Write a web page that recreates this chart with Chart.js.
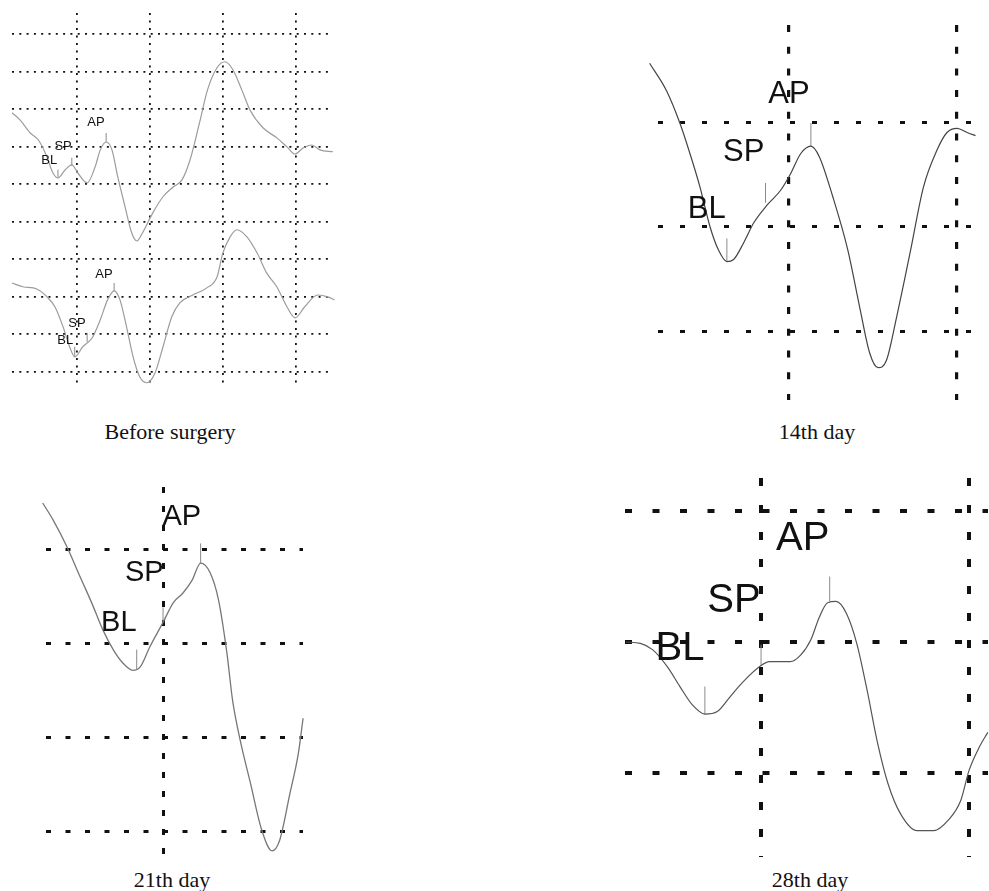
<!DOCTYPE html>
<html>
<head>
<meta charset="utf-8">
<title>ABR waveforms</title>
<script src="https://cdn.jsdelivr.net/npm/chart.js@4.4.1/dist/chart.umd.min.js"></script>
<style>
  body { margin: 0; background: #fff; }
  #page { position: relative; width: 989px; height: 891px; overflow: hidden; background: #fff; }
  #page canvas { position: absolute; }
  .cap { position: absolute; font-family: "Liberation Serif", "Times New Roman", serif; font-size: 22px;
         line-height: 22px; color: #111; transform: translateX(-50%); white-space: nowrap; }
</style>
</head>
<body>
<div id="page">
  <canvas id="c1" width="345" height="395" style="left:0px;top:0px;width:345px;height:395px"></canvas>
  <canvas id="c2" width="349" height="395" style="left:640px;top:15px;width:349px;height:395px"></canvas>
  <canvas id="c3" width="290" height="390" style="left:30px;top:475px;width:290px;height:390px"></canvas>
  <canvas id="c4" width="379" height="400" style="left:610px;top:465px;width:379px;height:400px"></canvas>
  <div class="cap" style="left:170px;top:421px">Before surgery</div>
  <div class="cap" style="left:817px;top:421px">14th day</div>
  <div class="cap" style="left:172px;top:869px">21th day</div>
  <div class="cap" style="left:810px;top:869px">28th day</div>
</div>
<script>
// values in grid divisions (x = latency, y = amplitude)

// --- before surgery: two traces
const preGridX = [1, 2, 3, 4];
const preGridY = [0, 1, 2, 3, 4, 5, 6, 7, 8, 9];
const preAX = [0.11,0.22,0.36,0.47,0.59,0.67,0.74,0.84,0.93,1.01,1.14,1.25,1.32,1.40,1.48,1.56,1.66,1.75,1.82,1.90,2.04,2.18,2.32,2.44,2.55,2.68,2.79,2.92,3.03,3.14,3.26,3.37,3.55,3.74,3.88,3.99,4.10,4.22,4.33,4.51];
const preAY = [6.91,6.72,6.37,6.19,5.73,5.31,5.17,5.39,5.52,5.31,5.04,5.47,5.92,6.13,5.92,5.20,4.40,3.71,3.49,3.71,4.24,4.67,4.93,5.12,5.65,6.64,7.52,8.11,8.27,8.05,7.52,6.99,6.51,6.24,6.00,5.81,5.97,6.05,5.92,5.87];
const preBX = [0.11,0.26,0.45,0.59,0.70,0.81,0.90,0.97,1.08,1.21,1.32,1.42,1.51,1.59,1.68,1.77,1.86,1.96,2.07,2.18,2.30,2.41,2.59,2.78,2.92,3.00,3.10,3.19,3.33,3.47,3.60,3.74,3.88,3.99,4.12,4.30,4.44,4.53];
const preBY = [2.37,2.27,2.21,2.00,1.73,1.20,0.67,0.40,0.67,0.91,1.39,1.92,2.16,1.92,1.20,0.40,-0.13,-0.29,-0.03,0.67,1.47,1.84,2.05,2.24,2.53,3.17,3.60,3.79,3.60,3.17,2.64,2.27,1.73,1.44,1.73,2.05,2.00,1.92];
// markers: [x, yFrom, yTo]
const preMarks = [[0.74,5.17,5.39],[0.93,5.49,5.71],[1.40,6.13,6.37],[0.97,0.40,0.67],[1.14,0.80,1.04],[1.51,2.16,2.37]];
const preLabels = [["AP",1.26,6.64],["SP",0.81,6.00],["BL",0.62,5.63],["AP",1.37,2.61],["SP",1.00,1.28],["BL",0.84,0.85]];

// --- 14th day
const d14GridX = [1, 2];
const d14GridY = [0, 1, 2];
const d14X = [0.17,0.27,0.35,0.41,0.47,0.53,0.58,0.63,0.67,0.73,0.79,0.87,0.95,1.01,1.07,1.13,1.18,1.26,1.35,1.42,1.48,1.53,1.58,1.64,1.72,1.80,1.88,1.94,2.00,2.06,2.11];
const d14Y = [2.56,2.30,1.99,1.70,1.38,1.00,0.78,0.67,0.69,0.85,1.04,1.21,1.35,1.51,1.70,1.77,1.67,1.29,0.78,0.24,-0.20,-0.34,-0.27,0.14,0.75,1.38,1.73,1.90,1.94,1.90,1.87];
const d14Marks = [[0.63,0.67,0.89],[0.86,1.23,1.42],[1.13,1.77,1.99]];
const d14Labels = [["AP",1.00,2.26],["SP",0.73,1.71],["BL",0.51,1.17]];

// --- 21th day
const d21GridX = [1];
const d21GridY = [0, 1, 2, 3];
const d21X = [-0.28,-0.17,-0.02,0.12,0.24,0.36,0.47,0.57,0.68,0.76,0.86,1.00,1.11,1.21,1.31,1.40,1.50,1.59,1.68,1.74,1.82,1.93,2.05,2.16,2.24,2.35,2.44,2.49];
const d21Y = [3.50,3.32,3.03,2.71,2.44,2.15,1.94,1.80,1.72,1.76,1.97,2.23,2.44,2.54,2.68,2.86,2.76,2.47,1.90,1.40,0.98,0.52,0.02,-0.20,-0.09,0.41,0.84,1.21];
const d21Marks = [[0.72,1.73,1.94],[1.00,2.23,2.39],[1.40,2.86,3.07]];
const d21Labels = [["AP",1.20,3.35],["SP",0.80,2.76],["BL",0.53,2.22]];

// --- 28th day
const d28GridX = [1, 2];
const d28GridY = [0, 1, 2];
const d28X = [0.35,0.42,0.48,0.55,0.61,0.67,0.73,0.79,0.85,0.91,1.00,1.04,1.14,1.19,1.24,1.28,1.32,1.36,1.41,1.46,1.51,1.56,1.61,1.67,1.75,1.83,1.90,1.96,2.00,2.05,2.09];
const d28Y = [1.00,0.99,0.94,0.81,0.66,0.52,0.45,0.47,0.58,0.69,0.82,0.85,0.85,0.90,1.02,1.19,1.30,1.31,1.22,0.99,0.63,0.23,-0.08,-0.31,-0.44,-0.44,-0.36,-0.21,0.02,0.20,0.31];
const d28Marks = [[0.73,0.45,0.66],[1.00,0.82,0.98],[1.33,1.31,1.50]];
const d28Labels = [["AP",1.20,1.79],["SP",0.87,1.31],["BL",0.61,0.95]];

const zip = (xs, ys) => xs.map((x, i) => ({ x, y: ys[i] }));

// AP / SP / BL text at data positions
const peakLabels = {
  id: "peakLabels",
  afterDatasetsDraw(chart, args, opts) {
    const { ctx, scales: { x, y } } = chart;
    ctx.save();
    ctx.font = opts.size + 'px "Liberation Sans", Arial, sans-serif';
    ctx.fillStyle = "#111";
    ctx.textAlign = "center";
    ctx.textBaseline = "middle";
    for (const [t, lx, ly] of opts.items) ctx.fillText(t, x.getPixelForValue(lx), y.getPixelForValue(ly));
    ctx.restore();
  }
};

function gridScale(min, max, ticks, width, dash){
  return {
    type: "linear", min, max,
    afterBuildTicks: (s) => { s.ticks = ticks.map(v => ({ value: v })); },
    ticks: { display: false },
    grid: { color: "#111", lineWidth: width, drawTicks: false },
    border: { display: false, dash }
  };
}

function makePanel(id, p){
  const datasets = p.traces.map(t => ({
    data: t, borderColor: p.color, borderWidth: p.lw, pointRadius: 0,
    cubicInterpolationMode: "monotone", clip: false
  }));
  for (const [mx, y0, y1] of p.marks){
    datasets.push({ data: [{ x: mx, y: y0 }, { x: mx, y: y1 }], borderColor: "#8a8a8a", borderWidth: 1, pointRadius: 0, clip: false });
  }
  new Chart(document.getElementById(id).getContext("2d"), {
    type: "line",
    data: { datasets },
    plugins: [peakLabels],
    options: {
      responsive: false, animation: false, parsing: false,
      layout: { padding: p.pad },
      scales: {
        x: gridScale(p.x[0], p.x[1], p.gridX, p.gw[0], p.dash[0]),
        y: gridScale(p.y[0], p.y[1], p.gridY, p.gw[1], p.dash[1])
      },
      plugins: { legend: { display: false }, tooltip: { enabled: false }, peakLabels: { items: p.labels, size: p.fs } }
    }
  });
}

makePanel("c1", {
  traces: [zip(preAX, preAY), zip(preBX, preBY)], marks: preMarks, labels: preLabels,
  x: [0.11, 4.51], y: [-0.43, 9.57], gridX: preGridX, gridY: preGridY,
  pad: { left: 12, top: 13, right: 12, bottom: 7 },
  color: "#9c9c9c", lw: 1.2, gw: [1.8, 1.8], dash: [[2, 5.5], [2, 5.3]], fs: 13
});
makePanel("c2", {
  traces: [zip(d14X, d14Y)], marks: d14Marks, labels: d14Labels,
  x: [0.22, 2.089], y: [-0.648, 2.924], gridX: d14GridX, gridY: d14GridY,
  pad: { left: 18, top: 10, right: 17, bottom: 10 },
  color: "#444", lw: 1.2, gw: [3.2, 3], dash: [[7, 14.7], [5, 17]], fs: 31
});
makePanel("c3", {
  traces: [zip(d21X, d21Y)], marks: d21Marks, labels: d21Labels,
  x: [-0.245, 2.489], y: [-0.266, 3.67], gridX: d21GridX, gridY: d21GridY,
  pad: { left: 16, top: 12, right: 17, bottom: 8 },
  color: "#777", lw: 1.3, gw: [3, 3], dash: [[6, 13], [5, 14.5]], fs: 29
});
makePanel("c4", {
  traces: [zip(d28X, d28Y)], marks: d28Marks, labels: d28Labels,
  x: [0.346, 2.091], y: [-0.641, 2.252], gridX: d28GridX, gridY: d28GridY,
  pad: { left: 15, top: 13, right: 1, bottom: 8 },
  color: "#555", lw: 1.2, gw: [4, 4], dash: [[8, 19], [7, 20.5]], fs: 40
});
</script>
</body>
</html>
